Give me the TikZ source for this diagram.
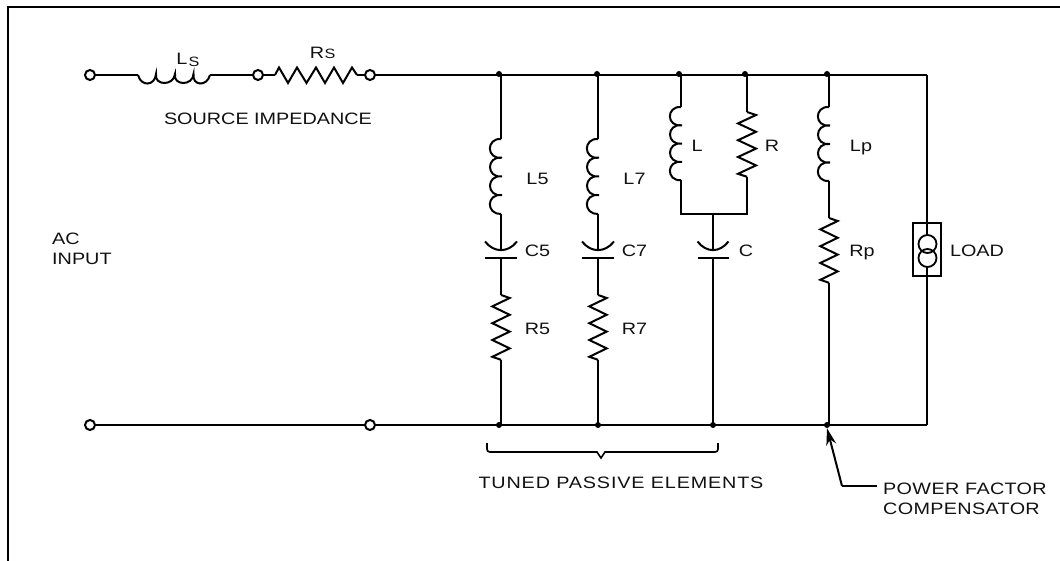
\documentclass[tikz,border=0pt]{standalone}
\usepackage{fontspec}
\setmainfont[FakeStretch=1.2]{Liberation Sans}
\usetikzlibrary{arrows.meta}
\definecolor{ink}{HTML}{111111}
\tikzset{
  wire/.style={line width=2pt,line join=miter},
  term/.style={circle,draw,line width=2pt,fill=white,inner sep=0pt,minimum size=10pt},
  jdot/.style={circle,fill=black,inner sep=0pt,minimum size=6pt},
  lab/.style={inner sep=0pt,text=ink,yshift=-0.8pt,font=\fontsize{16.5}{20}\selectfont},
  labl/.style={lab,align=left,anchor=west}
}
% vertical coil: x, y of top, loop height; four loops bulging left
\newcommand{\vcoil}[3]{%
  \draw[wire] (#1,#2) .. controls (#1-15,#2-1) and (#1-15,#2+#3+2) .. (#1+1,#2+#3)
    .. controls (#1-15,#2+#3-2) and (#1-15,#2+2*#3+2) .. (#1+1,#2+2*#3)
    .. controls (#1-15,#2+2*#3-2) and (#1-15,#2+3*#3+2) .. (#1+1,#2+3*#3)
    .. controls (#1-15,#2+3*#3-2) and (#1-15,#2+4*#3+1) .. (#1,#2+4*#3);}
% vertical resistor: x, y of top, half-width
\newcommand{\vres}[3]{%
  \draw[wire] (#1,#2) -- ++(#3,3) -- ++(-2*#3,8.4) -- ++(2*#3,8.4) -- ++(-2*#3,8.4)
    -- ++(2*#3,8.4) -- ++(-2*#3,8.4) -- ++(2*#3,8.4) -- ++(-2*#3,8.4) -- ++(#3,3);}
% capacitor: centre x, half-width
\newcommand{\vcap}[2]{%
  \draw[wire] (#1-#2,241.5) .. controls (#1-#2+9,253) and (#1+#2-9,253) .. (#1+#2,241.5);
  \draw[wire] (#1-#2,258) -- (#1+#2,258);}
\begin{document}
\begin{tikzpicture}[x=1pt,y=-1pt]
\useasboundingbox (0,0) rectangle (1060,561);
% frame
\draw[line width=2pt] (8,561) -- (8,7) -- (1060,7);
% terminals
\node[term] (t1) at (90,75) {};
\node[term] (t2) at (258,75) {};
\node[term] (t3) at (370,75) {};
\node[term] (b1) at (90,425) {};
\node[term] (b2) at (370,425) {};
% top junctions
\node[jdot] (j5) at (499,74) {};
\node[jdot] (j7) at (597,74) {};
\node[jdot] (jl) at (679,74) {};
\node[jdot] (jr) at (745,74) {};
\node[jdot] (jp) at (827,74) {};
% bottom junctions
\node[jdot] (k5) at (499,425) {};
\node[jdot] (k7) at (598,425) {};
\node[jdot] (kc) at (713,425) {};
\node[jdot] (kp) at (827,425) {};
% corner coordinates
\coordinate (ct) at (927,75);
\coordinate (cb) at (927,425);
% main wires
\coordinate (ls1) at (138,75);
\coordinate (ls2) at (210,75);
\coordinate (rs1) at (275,75);
\coordinate (rs2) at (357,75);
\draw[wire] (t1) -- (ls1);
\draw[wire] (ls1) .. controls (141,87) and (155,86) .. (156,74)
  .. controls (154,86) and (174,86) .. (175,74)
  .. controls (173,86) and (193,86) .. (193.5,74)
  .. controls (192,86) and (207,87) .. (ls2);
\draw[wire] (ls2) -- (t2);
\draw[wire] (t2) -- (rs1);
\draw[wire] (rs1) -- (279,67.5) -- (288,83) -- (297,67.5) -- (306.5,83) -- (316,67.5)
  -- (325,83) -- (334,67.5) -- (343,83) -- (352,67.5) -- (rs2);
\draw[wire] (rs2) -- (t3);
\draw[wire] (t3) -- (ct);
\draw[wire] (ct) -- (927,235);
\draw[wire] (927,267) -- (cb);
\draw[wire] (cb) -- (b2);
\draw[wire] (b2) -- (b1);
% branches L5/C5/R5 and L7/C7/R7
\foreach \x in {501,598}{
  \draw[wire] (\x,75) -- (\x,139);
  \vcoil{\x}{139}{18.7}
  \draw[wire] (\x,214) -- (\x,250);
  \vcap{\x}{16}
  \draw[wire] (\x,258) -- (\x,295);
  \vres{\x}{295}{8.7}
  \draw[wire] (\x,359.6) -- (\x,425);
}
% branch L // R, C
\draw[wire] (681,75) -- (681,107);
\vcoil{681}{107}{18.3}
\draw[wire] (681,180) -- (681,214) -- (747,214) -- (747,177);
\draw[wire] (747,75) -- (747,112);
\vres{747}{112}{9}
\coordinate (cj) at (713,214);
\draw[wire] (cj) -- (713,250);
\vcap{713}{15.5}
\draw[wire] (713,258) -- (713,425);
% branch Lp, Rp
\draw[wire] (829,75) -- (829,107);
\vcoil{829}{107}{18.5}
\draw[wire] (829,181) -- (829,218);
\vres{829}{218}{8.7}
\draw[wire] (829,282.6) -- (829,425);
% load
\node[draw,line width=1.8pt,minimum width=28pt,minimum height=53pt,inner sep=0pt] (load) at (927,249.5) {};
\draw[line width=1.8pt] (927.5,244) circle (9);
\draw[line width=1.8pt] (927.5,258) circle (9);
% labels
\node[lab] (lL) at (182,58) {L};
\node[lab,font=\fontsize{13.5}{15}\selectfont] (lS) at (194,61) {S};
\node[lab] (lR) at (317,52) {R};
\node[lab,font=\fontsize{13.5}{15}\selectfont] (lS2) at (330,53.5) {S};
\node[lab] (src) at (268,118) {SOURCE IMPEDANCE};
\node[labl] (ac) at (52,238) {AC};
\node[labl] (inp) at (52,258) {INPUT};
\node[lab] (l5) at (537.5,178) {L5};
\node[lab] (l7) at (634.5,178) {L7};
\node[lab] (l0) at (697,145) {L};
\node[lab] (r0) at (772,145) {R};
\node[lab,anchor=base] (lp) at (861,150.5) {Lp};
\node[lab] (c5) at (537.5,250) {C5};
\node[lab] (c7) at (634.5,250) {C7};
\node[lab] (c0) at (746,250) {C};
\node[lab] (r5) at (537.5,328) {R5};
\node[lab] (r7) at (634.5,328) {R7};
\node[lab,anchor=base] (rp) at (862,255.5) {Rp};
\node[lab] (lo) at (977,250) {LOAD};
\node[lab] (tun) at (621,482) {\addfontfeature{LetterSpace=5}TUNED PASSIVE ELEMENTS};
\node[labl] (pf) at (883,488) {\addfontfeature{LetterSpace=2}POWER FACTOR};
\node[labl] (co) at (883,508) {\addfontfeature{LetterSpace=2}COMPENSATOR};
% brace
\coordinate (br1) at (487,443);
\coordinate (br2) at (718,443);
\coordinate (brt) at (601,458);
\draw[wire,line width=1.6pt] (br1) -- (487,449) .. controls (487,451) and (488,452) .. (490,452) -- (597,452) -- (brt) -- (605,452) -- (715,452)
  .. controls (717,452) and (718,451) .. (718,449) -- (br2);
% leader
\coordinate (lead) at (877,486);
\coordinate (bend) at (842,486);
\draw[wire] (lead) -- (bend);
\draw[wire,-{Stealth[length=17pt,width=10pt]}] (bend) -- (kp.south);
\end{tikzpicture}
\end{document}
